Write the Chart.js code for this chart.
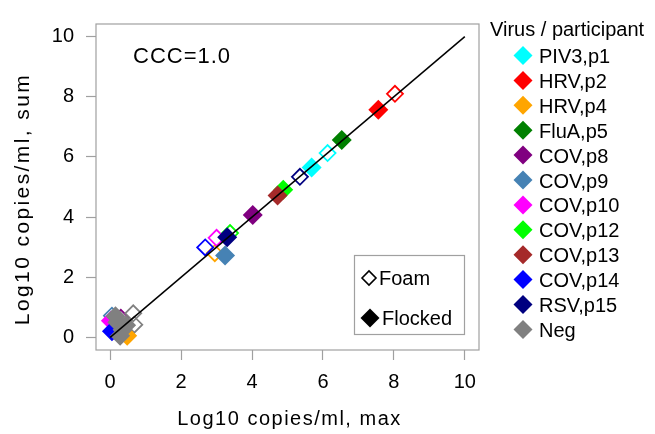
<!DOCTYPE html>
<html><head><meta charset="utf-8">
<script src="https://cdn.jsdelivr.net/npm/chart.js@4/dist/chart.umd.min.js"></script>
<style>html,body{margin:0;padding:0;background:#fff}#wrap{width:655px;height:434px;position:relative}</style>
</head><body><div id="wrap"><canvas id="c" width="655" height="434"></canvas></div>
<script>
// ---- data ----
const categories = ['PIV3,p1','HRV,p2','HRV,p4','FluA,p5','COV,p8','COV,p9','COV,p10','COV,p12','COV,p13','COV,p14','RSV,p15','Neg'];
const colors = ['#00FFFF','#FF0000','#FFA500','#008000','#800080','#4682B4','#FF00FF','#00FF00','#A52A2A','#0000FF','#000080','#808080'];
// [max, sum] pairs per category (Log10 copies/ml)
const flockedPoints = [
  [[5.68,5.65]],
  [[7.56,7.57]],
  [[0.48,0.05]],
  [[6.53,6.56]],
  [[4.02,4.07]],
  [[3.24,2.72]],
  [[0.02,0.55]],
  [[4.88,4.91]],
  [[4.72,4.72]],
  [[0.05,0.2]],
  [[3.30,3.33]],
  [[0.15,0.7],[0.2,0.5],[0.45,0.4],[0.35,0.25],[0.28,0.05]]
];
const foamPoints = [
  [[6.13,6.13]],
  [[8.03,8.10]],
  [[2.95,2.80]],
  [],
  [[0.30,0.65]],
  [[0.05,0.72]],
  [[3.00,3.31]],
  [[3.38,3.47]],
  [],
  [[2.68,2.99]],
  [[5.35,5.34]],
  [[0.65,0.80],[0.68,0.42]]
];
const identityLine = [[0,0],[10,10]];
const xTicks = [0,2,4,6,8,10];
const yTicks = [0,2,4,6,8,10];
const xTitle = 'Log10 copies/ml, max';
const yTitle = 'Log10 copies/ml, sum';
const legendTitle = 'Virus / participant';
const cccLabel = 'CCC=1.0';
const typeLabels = ['Foam','Flocked'];

// ---- chart ----
const FONT = '"Liberation Sans", Arial, sans-serif';
const FRAME = '#a0a0a0';
const toXY = arr => arr.map(p => ({x:p[0], y:p[1]}));
const n = categories.length;
const datasets = [];
datasets.push({
  label:'identity', data: toXY(identityLine), showLine:true, borderColor:'#000', borderWidth:1.5,
  pointRadius:0, fill:false, order:0
});
categories.forEach((c,i)=>{
  datasets.push({
    label:c+' flocked', data: toXY(flockedPoints[i]), pointStyle:'rectRot', pointRadius:10,
    backgroundColor:colors[i], borderColor:colors[i], borderWidth:0, order: 1 + (n-1-i)
  });
  datasets.push({
    label:c+' foam', data: toXY(foamPoints[i]), pointStyle:'rectRot', pointRadius:8,
    backgroundColor:'rgba(0,0,0,0)', borderColor:colors[i], borderWidth:1.8, order: 20 + (n-1-i)
  });
});

function diamond(ctx,x,y,r){ctx.beginPath();ctx.moveTo(x-r,y);ctx.lineTo(x,y-r);ctx.lineTo(x+r,y);ctx.lineTo(x,y+r);ctx.closePath();}

const decor = {
  id:'decor',
  beforeDatasetsDraw(chart){
    const {ctx, chartArea:a} = chart;
    ctx.save();
    ctx.strokeStyle = FRAME; ctx.lineWidth = 1.2;
    ctx.strokeRect(a.left, a.top, a.right-a.left, a.bottom-a.top);
    ctx.restore();
  },
  afterDraw(chart){
    const {ctx, chartArea:a} = chart;
    ctx.save();
    ctx.fillStyle = '#000';
    ctx.textBaseline = 'alphabetic';
    // axis titles
    ctx.font = '20px ' + FONT;
    ctx.letterSpacing = '1.5px';
    ctx.textAlign = 'center';
    ctx.fillText(xTitle, (a.left+a.right)/2 + 2, 425);
    ctx.save();
    ctx.translate(29, 199);
    ctx.rotate(-Math.PI/2);
    ctx.font = '21px ' + FONT;
    ctx.letterSpacing = '2.4px';
    ctx.fillText(yTitle, 0, 0);
    ctx.restore();
    ctx.letterSpacing = '0px';
    // CCC label
    ctx.textAlign = 'left';
    ctx.font = '22px ' + FONT;
    ctx.letterSpacing = '1px';
    ctx.fillText(cccLabel, 133, 63);
    ctx.letterSpacing = '0px';
    // right legend
    ctx.font = '20px ' + FONT;
    ctx.fillText(legendTitle, 490, 36);
    categories.forEach((c,i)=>{
      const by = 63 + 24.9*i;
      ctx.fillStyle = colors[i];
      diamond(ctx, 523, by-7.5, 9.5); ctx.fill();
      ctx.fillStyle = '#000';
      ctx.fillText(c, 539, by);
    });
    // inset legend
    ctx.strokeStyle = FRAME; ctx.lineWidth = 1.2;
    ctx.strokeRect(354.5, 255.5, 110, 79);
    ctx.strokeStyle = '#000'; ctx.lineWidth = 1.6;
    diamond(ctx, 369, 278, 7); ctx.stroke();
    ctx.fillStyle = '#000';
    diamond(ctx, 370, 318, 9.5); ctx.fill();
    ctx.fillText(typeLabels[0], 379, 285);
    ctx.fillText(typeLabels[1], 382, 325);
    ctx.restore();
  }
};

new Chart(document.getElementById('c'), {
  type:'scatter',
  data:{datasets},
  options:{
    responsive:false, animation:false, events:[],
    layout:{padding:{top:11, right:176, left:0, bottom:0}},
    plugins:{legend:{display:false}, tooltip:{enabled:false}},
    scales:{
      x:{
        type:'linear', min:-0.4, max:10.4,
        afterBuildTicks(s){ s.ticks = xTicks.map(v=>({value:v})); },
        afterFit(s){ s.height = 84; },
        grid:{display:true, drawOnChartArea:false, drawTicks:true, tickLength:10, tickColor:FRAME, tickWidth:1.2},
        border:{display:false},
        ticks:{color:'#000', font:{family:FONT, size:20}, padding:10, maxRotation:0, autoSkip:false}
      },
      y:{
        type:'linear', min:-0.42, max:10.42,
        afterBuildTicks(s){ s.ticks = yTicks.map(v=>({value:v})); },
        afterFit(s){ s.width = 96; },
        grid:{display:true, drawOnChartArea:false, drawTicks:true, tickLength:10, tickColor:FRAME, tickWidth:1.2},
        border:{display:false},
        ticks:{color:'#000', font:{family:FONT, size:20}, padding:12, autoSkip:false}
      }
    }
  },
  plugins:[decor]
});
</script>
</body></html>
